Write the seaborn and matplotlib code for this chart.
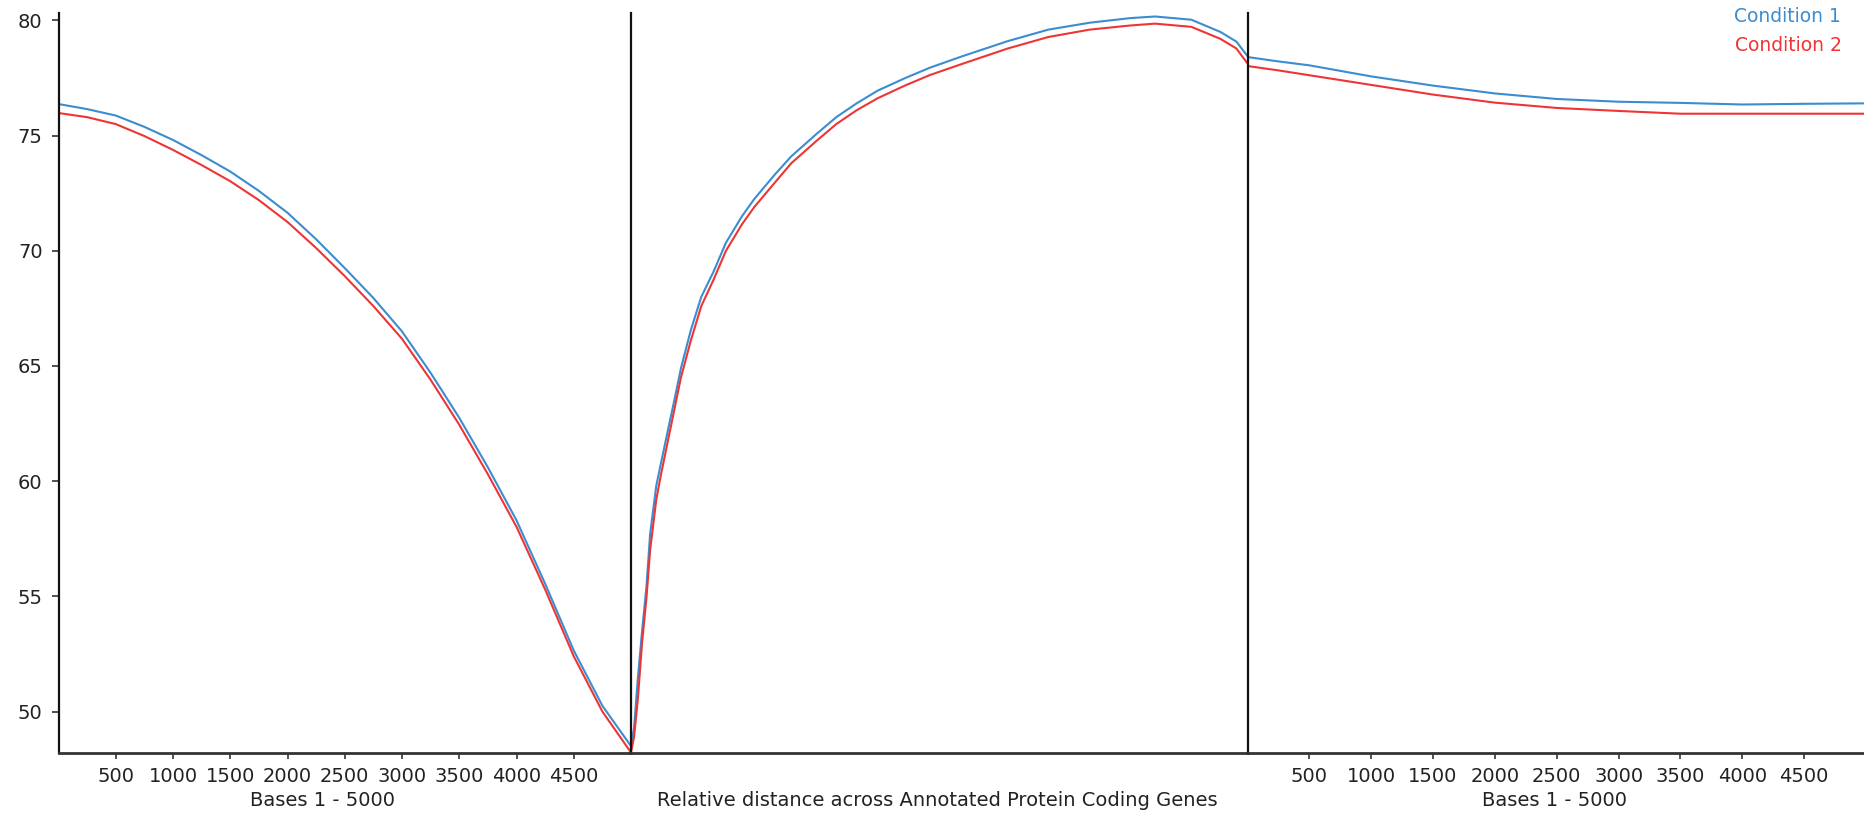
import matplotlib
matplotlib.use("Agg")
import matplotlib.pyplot as plt
import seaborn as sns
import pandas as pd

# ---------------- data ----------------
conditions = ["Condition 1", "Condition 2"]
colors = ["#3a8dd0", "#ee3535"]

up_bases = [0, 250, 500, 750, 1000, 1250, 1500, 1750, 2000, 2250, 2500,
            2750, 3000, 3250, 3500, 3750, 4000, 4250, 4500, 4750, 5000]
up_cond1 = [76.37, 76.15, 75.87, 75.38, 74.81, 74.15, 73.44, 72.60, 71.65, 70.50, 69.25,
            67.95, 66.50, 64.70, 62.75, 60.60, 58.30, 55.55, 52.65, 50.25, 48.50]
up_cond2 = [75.98, 75.80, 75.50, 74.98, 74.38, 73.72, 73.02, 72.20, 71.25, 70.12, 68.90,
            67.60, 66.18, 64.40, 62.45, 60.30, 58.02, 55.30, 52.40, 50.00, 48.22]

gene_rel = [0.0, 0.005, 0.011, 0.018, 0.025, 0.031, 0.041, 0.048, 0.061, 0.071, 0.081,
            0.097, 0.114, 0.134, 0.154, 0.18, 0.2, 0.233, 0.26, 0.3, 0.333, 0.366,
            0.4, 0.445, 0.485, 0.538, 0.611, 0.677, 0.744, 0.81, 0.85, 0.909, 0.956,
            0.982, 1.0]
gene_cond1 = [48.50, 49.30, 51.40, 53.50, 55.40, 57.70, 59.80, 60.70, 62.35, 63.60, 64.90,
              66.55, 68.00, 69.10, 70.35, 71.50, 72.25, 73.30, 74.10, 75.05, 75.80, 76.40,
              76.95, 77.50, 77.95, 78.45, 79.10, 79.60, 79.90, 80.10, 80.17, 80.03, 79.50,
              79.08, 78.45]
gene_cond2 = [48.22, 48.90, 50.50, 53.00, 54.90, 57.00, 59.20, 60.20, 61.90, 63.20, 64.50,
              66.10, 67.60, 68.75, 70.00, 71.15, 71.90, 72.95, 73.80, 74.75, 75.50, 76.10,
              76.62, 77.18, 77.63, 78.12, 78.78, 79.28, 79.60, 79.78, 79.86, 79.72, 79.20,
              78.78, 78.13]

down_bases = [0, 250, 500, 1000, 1500, 2000, 2500, 3000, 3500, 4000, 4500, 5000]
down_cond1 = [78.41, 78.22, 78.05, 77.57, 77.17, 76.83, 76.59, 76.47, 76.42, 76.35, 76.38, 76.40]
down_cond2 = [78.02, 77.83, 77.62, 77.20, 76.78, 76.43, 76.20, 76.07, 75.95, 75.95, 75.95, 75.95]

base_ticks = [500, 1000, 1500, 2000, 2500, 3000, 3500, 4000, 4500]
y_ticks = [50, 55, 60, 65, 70, 75, 80]
flank_label = "Bases 1 - 5000"
gene_label = "Relative distance across Annotated Protein Coding Genes"

# ---------------- style ----------------
sns.set_style("white")
plt.rcParams["font.family"] = ["DejaVu Sans"]

W, H = 1864, 815
fig = plt.figure(figsize=(W / 100, H / 100), dpi=100)

bot = 62 / H
hgt = (753 - 13.5) / H
ax1 = fig.add_axes([58.5 / W, bot, 572.5 / W, hgt])
ax2 = fig.add_axes([631 / W, bot, 616.5 / W, hgt])
ax3 = fig.add_axes([1247.5 / W, bot, 618.5 / W, hgt])

palette = dict(zip(conditions, colors))


def long_df(x, a, b):
    return pd.DataFrame({
        "x": list(x) * 2,
        "value": list(a) + list(b),
        "condition": [conditions[0]] * len(a) + [conditions[1]] * len(b),
    })


segments = [
    (ax1, long_df(up_bases, up_cond1, up_cond2), (0, 5000)),
    (ax2, long_df(gene_rel, gene_cond1, gene_cond2), (0, 1)),
    (ax3, long_df(down_bases, down_cond1, down_cond2), (0, 5000)),
]

for ax, df, xl in segments:
    sns.lineplot(data=df, x="x", y="value", hue="condition", hue_order=conditions,
                 palette=palette, ax=ax, legend=False, linewidth=1.5,
                 estimator=None, sort=False)
    ax.set_xlim(*xl)
    ax.set_ylim(48.2, 80.3)
    ax.set_xlabel("")
    ax.set_ylabel("")
    ax.set_facecolor("white")
    for s in ["top", "right"]:
        ax.spines[s].set_visible(False)
    ax.spines["bottom"].set_color("#333333")
    ax.spines["bottom"].set_linewidth(2.0)
    ax.spines["left"].set_color("#111111")
    ax.spines["left"].set_linewidth(1.6)

# y axis only on the first panel
ax1.set_yticks(y_ticks)
ax1.set_yticklabels([str(v) for v in y_ticks])
ax1.tick_params(axis="y", length=5, width=1.2, color="#333333", pad=6.5,
                labelsize=14, labelcolor="#222222", left=True)
for ax in (ax2, ax3):
    ax.tick_params(axis="y", left=False, labelleft=False)

for ax in (ax1, ax3):
    ax.set_xticks(base_ticks)
    ax.set_xticklabels([str(v) for v in base_ticks])
    ax.tick_params(axis="x", length=4.5, width=1.2, color="#333333", pad=5.5,
                   labelsize=14, labelcolor="#222222", bottom=True)
ax2.set_xticks([])

# axis titles
fig.text(322 / W, 1 - 806 / H, flank_label, ha="center", va="baseline",
         fontsize=14, color="#222222")
fig.text(937 / W, 1 - 806 / H, gene_label, ha="center", va="baseline",
         fontsize=14, color="#222222")
fig.text(1555 / W, 1 - 806 / H, flank_label, ha="center", va="baseline",
         fontsize=14, color="#222222")

# legend texts
fig.text(1841 / W, 1 - 16.6 / H, conditions[0], ha="right", va="center",
         fontsize=13.5, color=colors[0])
fig.text(1842 / W, 1 - 45.2 / H, conditions[1], ha="right", va="center",
         fontsize=13.5, color=colors[1])

fig.savefig("out.png", dpi=100, facecolor="white")
